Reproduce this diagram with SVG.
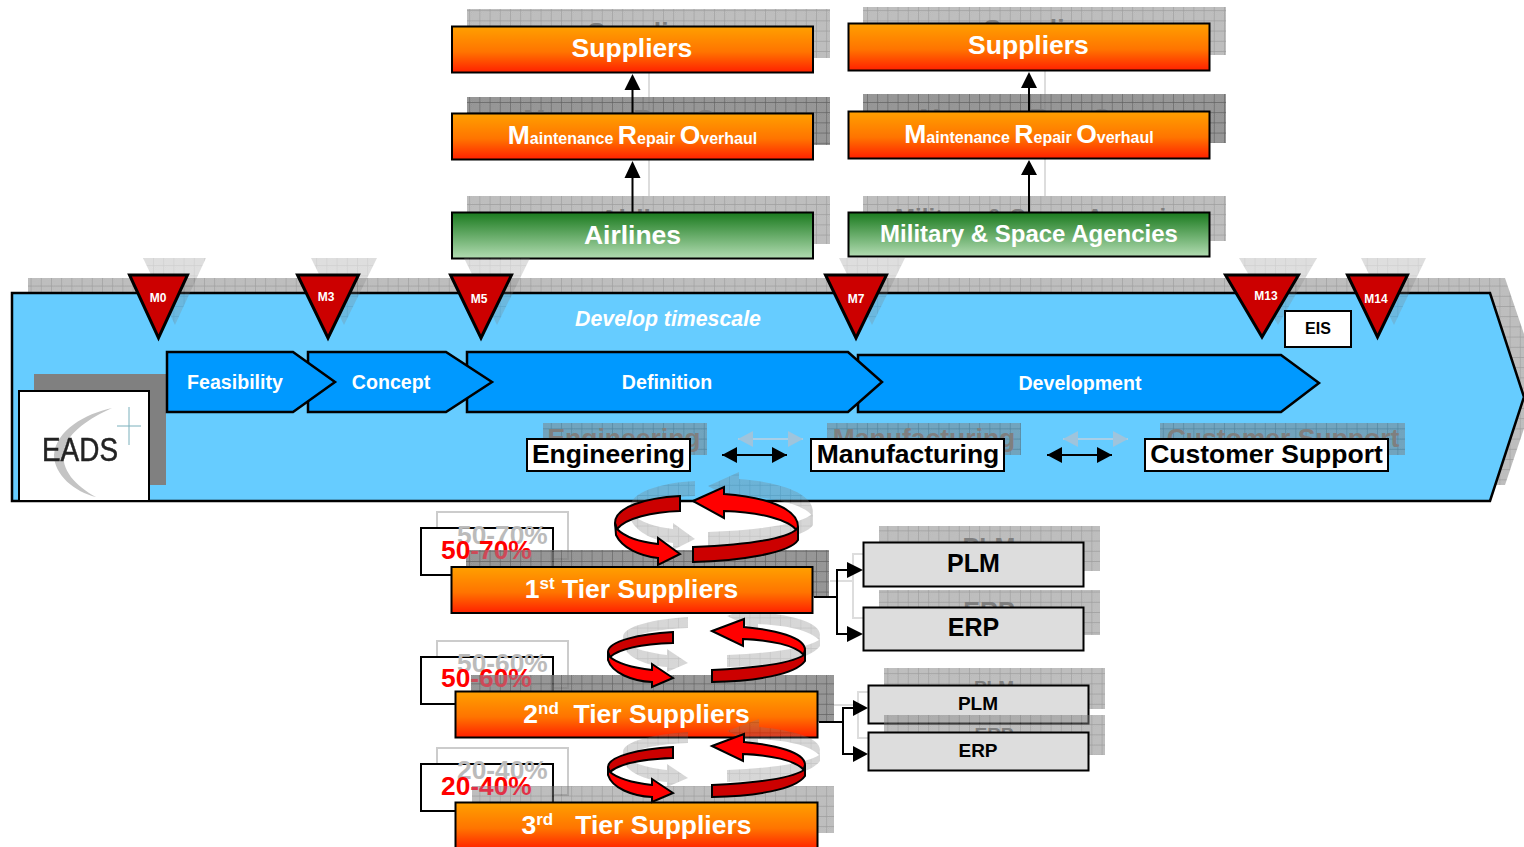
<svg xmlns="http://www.w3.org/2000/svg" width="1524" height="847" viewBox="0 0 1524 847">
<style>
text{font-family:"Liberation Sans",Arial,sans-serif;font-weight:700;white-space:pre}
.c{text-anchor:middle}
.w{fill:#fff}
.k{fill:#000}
.sh{fill:url(#grid);opacity:.5}
.shd{fill:url(#grid);opacity:.8}
.shl{fill:url(#grid);opacity:.25}
.gt{fill:#7f7f7f}
.or{fill:url(#orange);stroke:#000;stroke-width:2}
.gr{fill:url(#green);stroke:#000;stroke-width:2}
.gy{fill:#ddd;stroke:#000;stroke-width:2}
.wb{fill:#fff;stroke:#000;stroke-width:2}
.tri{fill:#c00;stroke:#000;stroke-width:3;stroke-linejoin:miter}
.chev{fill:#09f;stroke:#000;stroke-width:2.5}
.dk{fill:#c00;stroke:#000;stroke-width:2}
.rd{fill:#f00;stroke:#000;stroke-width:2}
.gro{fill:url(#grid);opacity:.3}
.ln{fill:none;stroke:#000;stroke-width:2}
.gl{fill:none;stroke:#ddd;stroke-width:2}
.hd{fill:#000}
.ghd{fill:#9fc4dc}
.tb{font-size:26.5px}
.pct{font-size:26.3px}
.mro{font-size:16px}
.big{font-size:26.5px}
.ch{font-size:19.6px}
.lb{font-size:26.5px}
</style>
<defs>
<linearGradient id="orange" x1="0" y1="0" x2="0" y2="1"><stop offset="0" stop-color="#ffa000"/><stop offset=".55" stop-color="#ff7400"/><stop offset="1" stop-color="#ff2000"/></linearGradient>
<linearGradient id="green" x1="0" y1="0" x2="0" y2="1"><stop offset="0" stop-color="#1a7a1e"/><stop offset="1" stop-color="#b2dcb2"/></linearGradient>
<linearGradient id="pk1" gradientUnits="userSpaceOnUse" x1="0" y1="541" x2="0" y2="559"><stop offset=".5" stop-color="#f00"/><stop offset=".5" stop-color="#cc4a58"/></linearGradient>
<linearGradient id="pk2" gradientUnits="userSpaceOnUse" x1="0" y1="669" x2="0" y2="687"><stop offset=".33" stop-color="#f00"/><stop offset=".33" stop-color="#cc4a58"/></linearGradient>
<linearGradient id="pk3" gradientUnits="userSpaceOnUse" x1="0" y1="777" x2="0" y2="795"><stop offset=".5" stop-color="#f00"/><stop offset=".5" stop-color="#e03048"/></linearGradient>
<pattern id="dith" width="2" height="2" patternUnits="userSpaceOnUse"><rect width="2" height="2" fill="#8a8a8a"/><rect width="1" height="1" fill="#6e6e6e"/><rect x="1" y="1" width="1" height="1" fill="#6e6e6e"/></pattern>
<pattern id="grid" width="10.2" height="10.2" patternUnits="userSpaceOnUse"><rect width="10.2" height="10.2" fill="url(#dith)"/><path d="M0,0H10.2M0,0V10.2" stroke="#3a3a3a" stroke-width="1.2" fill="none"/></pattern>
<filter id="soft" x="-10%" y="-10%" width="120%" height="120%"><feGaussianBlur stdDeviation=".6"/></filter>
<path id="r1a" d="M680,496C645,498 615,507 615,523C615,525 616,527 617,529C626,518 652,512 680,511Z"/>
<path id="r1b" d="M615,523L616,535C622,548 640,556 658,558L658,565L680,554L658,538L658,544C640,542 625,537 617,529Z"/>
<path id="r1c" d="M693,501L724,487L724,494C765,497 798,508 798,527L797,531C790,520 760,512 724,511L724,518Z"/>
<path id="r1d" d="M693,547C740,545 785,540 797,529L798,527L798,540C790,553 740,561 693,562Z"/>
<path id="r2a" d="M673,632C640,634 608,641 608,652C608,654 609,656 610,657C620,648 645,644 673,643Z"/>
<path id="r2b" d="M608,652L608,660C612,673 632,681 652,682L652,687L673,678L652,664L652,670C635,668 618,664 610,657Z"/>
<path id="r2c" d="M712,631L744,619L744,627C775,630 805,637 805,650L804,655C795,645 770,640 743,639L743,646Z"/>
<path id="r2d" d="M712,670C755,668 790,664 804,655L805,650L805,661C795,675 755,681 712,682Z"/>
<g id="r1all"><use href="#r1a"/><use href="#r1b"/><use href="#r1c"/><use href="#r1d"/></g>
<g id="r2all"><use href="#r2a"/><use href="#r2b"/><use href="#r2c"/><use href="#r2d"/></g>
<g id="r2full"><use href="#r2a" class="dk"/><use href="#r2b" class="rd"/><use href="#r2c" class="rd"/><use href="#r2d" class="dk"/></g>
</defs>

<g id="connector-shadows">
<path class="gl" d="M649,73V196M1045,71V196M830,581H853M879,554H853V618H879M834,705H858M884,692H858V738H884"/>
</g>

<g id="node-suppliers-a">
<rect class="sh" x="467" y="9" width="363" height="49"/>
<text class="gt c tb" x="648" y="41">Suppliers</text>
<rect class="or" x="452" y="26.500" width="361" height="46"/>
<text class="w c tb" x="632" y="57">Suppliers</text>
</g>
<g id="node-mro-a">
<rect class="shd" x="467" y="97" width="363" height="48"/>
<text class="gt c mro" x="648" y="128"><tspan class="big">M</tspan>aintenance <tspan class="big">R</tspan>epair <tspan class="big">O</tspan>verhaul</text>
<rect class="or" x="452" y="113.500" width="361" height="46"/>
<text class="w c mro" x="632.500" y="144"><tspan class="big">M</tspan>aintenance <tspan class="big">R</tspan>epair <tspan class="big">O</tspan>verhaul</text>
</g>
<g id="node-airlines">
<rect class="sh" x="467" y="196" width="363" height="48"/>
<text class="gt c tb" x="648" y="228">Airlines</text>
<rect class="gr" x="452" y="212.500" width="361" height="46"/>
<text class="w c tb" x="632.500" y="244">Airlines</text>
</g>
<g id="node-suppliers-b">
<rect class="sh" x="863" y="7" width="363" height="48"/>
<text class="gt c tb" x="1044" y="38">Suppliers</text>
<rect class="or" x="848.500" y="23.500" width="361" height="47"/>
<text class="w c tb" x="1028.500" y="54">Suppliers</text>
</g>
<g id="node-mro-b">
<rect class="shd" x="863" y="94" width="363" height="49"/>
<text class="gt c mro" x="1044" y="127"><tspan class="big">M</tspan>aintenance <tspan class="big">R</tspan>epair <tspan class="big">O</tspan>verhaul</text>
<rect class="or" x="848.500" y="111.500" width="361" height="47"/>
<text class="w c mro" x="1029" y="143"><tspan class="big">M</tspan>aintenance <tspan class="big">R</tspan>epair <tspan class="big">O</tspan>verhaul</text>
</g>
<g id="node-agencies">
<rect class="sh" x="863" y="196" width="363" height="45"/>
<text class="gt c" x="1044" y="226" font-size="24">Military &amp; Space Agencies</text>
<rect class="gr" x="848.500" y="212.500" width="361" height="44"/>
<text class="w c" x="1029" y="242" font-size="24">Military &amp; Space Agencies</text>
</g>

<g id="node-timeline">
<path class="sh" d="M28,278H1505L1540,381L1505,485H28Z"/>
<path d="M12,293H1490L1524,397L1490,501H12Z" fill="#6cf" stroke="#000" stroke-width="2.500"/>
<text class="w c" x="668" y="326" font-size="21.300" font-style="italic">Develop timescale</text>
</g>

<g id="node-eads">
<rect x="34" y="374" width="132" height="111" fill="#808080"/>
<rect class="wb" x="19" y="391" width="130" height="110"/>
<path d="M112,408C85,414 56,430 54,455C54,475 75,492 96,497C76,486 60,470 64,450C68,432 90,418 112,408Z" fill="#c4c4c4" filter="url(#soft)"/>
<path d="M117,426H141M129,407V445" stroke="#7ab0bc" stroke-width="1" fill="none"/>
<text x="42" y="461" font-size="33" fill="#222" stroke="#222" stroke-width=".5" textLength="76" lengthAdjust="spacingAndGlyphs" style="font-weight:400" filter="url(#soft)">EADS</text>
</g>

<g id="node-development">
<path class="chev" d="M858,355H1281L1319,383L1281,412H858Z"/>
<text class="w c ch" x="1080" y="390">Development</text>
</g>
<g id="node-definition">
<path class="chev" d="M467,352H848L882,382L848,412H467Z"/>
<text class="w c ch" x="667" y="389">Definition</text>
</g>
<g id="node-concept">
<path class="chev" d="M308,352H446L492,382L446,412H308Z"/>
<text class="w c ch" x="391" y="389">Concept</text>
</g>
<g id="node-feasibility">
<path class="chev" d="M167,352H293L335,382L293,412H167Z"/>
<text class="w c ch" x="235" y="389">Feasibility</text>
</g>

<g id="milestone-shadows">
<path class="shl" d="M143,258H206L175,325Z"/>
<path class="shl" d="M311,258H377L344,325Z"/>
<path class="shl" d="M464,258H530L497,325Z"/>
<path class="shl" d="M839,258H905L872,325Z"/>
<path class="shl" d="M1239,258H1317L1278,325Z"/>
<path class="shl" d="M1361,258H1426L1394,325Z"/>
</g>
<g id="node-m0"><path class="tri" d="M129.500,275H187.500L158.500,338Z"/><text class="w c" x="158" y="302" font-size="12">M0</text></g>
<g id="node-m3"><path class="tri" d="M297.500,275H358.500L328,338Z"/><text class="w c" x="326" y="301" font-size="12">M3</text></g>
<g id="node-m5"><path class="tri" d="M450.500,275H511.500L481,338Z"/><text class="w c" x="479" y="303" font-size="12">M5</text></g>
<g id="node-m7"><path class="tri" d="M825.500,275H886.500L856,338Z"/><text class="w c" x="856" y="303" font-size="12">M7</text></g>
<g id="node-m13"><path class="tri" d="M1225.500,275H1298.500L1262,337Z"/><text class="w c" x="1266" y="300" font-size="12">M13</text></g>
<g id="node-m14"><path class="tri" d="M1347.500,275H1407.500L1377.500,337Z"/><text class="w c" x="1376" y="303" font-size="12">M14</text></g>
<g id="node-eis"><rect class="wb" x="1285" y="311" width="66" height="36"/><text class="k c" x="1318" y="334" font-size="16">EIS</text></g>

<g id="node-engineering">
<rect class="sh" x="543" y="423" width="164" height="32"/>
<text class="gt c lb" x="624" y="447">Engineering</text>
<rect class="wb" x="527" y="439" width="163" height="32"/>
<text class="k c lb" x="608.500" y="463">Engineering</text>
</g>
<g id="node-manufacturing">
<rect class="sh" x="827" y="423" width="194" height="32"/>
<text class="gt c lb" x="924" y="447">Manufacturing</text>
<rect class="wb" x="811" y="439" width="193" height="32"/>
<text class="k c lb" x="908" y="463">Manufacturing</text>
</g>
<g id="node-support">
<rect class="sh" x="1160" y="423" width="245" height="32"/>
<text class="gt c lb" x="1283" y="447">Customer Support</text>
<rect class="wb" x="1145" y="439" width="243" height="32"/>
<text class="k c lb" x="1266.500" y="463">Customer Support</text>
</g>

<g id="node-share-1">
<rect x="437" y="512" width="131" height="47" fill="#fff" stroke="#ccc" stroke-width="2"/>
<rect class="wb" x="421" y="528" width="132" height="47"/>
<text class="pct" x="457" y="544" fill="#bbb">50-70%</text>
</g>
<g id="node-share-2">
<rect x="437" y="641" width="131" height="47" fill="#fff" stroke="#ccc" stroke-width="2"/>
<rect class="wb" x="421" y="657" width="132" height="47"/>
<text class="pct" x="457" y="672" fill="#bbb">50-60%</text>
</g>
<g id="node-share-3">
<rect x="437" y="748" width="131" height="47" fill="#fff" stroke="#ccc" stroke-width="2"/>
<rect class="wb" x="421" y="764" width="132" height="47"/>
<text class="pct" x="457" y="779" fill="#bbb">20-40%</text>
</g>

<use id="cycle-2-shadow" href="#r2all" class="gro" transform="translate(15,-15)"/>
<use id="cycle-1-shadow" href="#r1all" class="gro" transform="translate(15,-15)"/>

<g id="node-tier-1">
<rect class="shd" x="466" y="550" width="363" height="47"/>
<rect class="or" x="451.500" y="567" width="361" height="46"/>
<text class="w c tb" x="631.500" y="598">1<tspan font-size="17" dy="-9">st</tspan><tspan dy="9"> Tier Suppliers</tspan></text>
</g>
<g id="node-tier-2">
<rect class="shd" x="471" y="675" width="363" height="47"/>
<rect class="or" x="455.500" y="691.500" width="362" height="46"/>
<text class="w c tb" x="636.500" y="723">2<tspan font-size="17" dy="-9">nd</tspan><tspan dy="9">  Tier Suppliers</tspan></text>
</g>
<g id="node-tier-3">
<rect class="sh" x="472" y="786" width="362" height="47"/>
<rect class="or" x="455.500" y="802.500" width="362" height="47"/>
<text class="w c tb" x="636.500" y="834">3<tspan font-size="17" dy="-9">rd</tspan><tspan dy="9">   Tier Suppliers</tspan></text>
</g>

<g id="share-labels">
<text class="pct" x="441" y="559" fill="#f00">50<tspan fill="url(#pk1)">-70%</tspan></text>
<text class="pct" x="441" y="687" fill="#f00">50<tspan fill="url(#pk2)">-60%</tspan></text>
<text class="pct" x="441" y="795" fill="#f00">20<tspan fill="url(#pk3)">-40%</tspan></text>
</g>

<use id="cycle-3-shadow" href="#r2all" class="gro" transform="translate(15,100)"/>
<g id="cycle-1"><use href="#r1a" class="dk"/><use href="#r1b" class="rd"/><use href="#r1c" class="rd"/><use href="#r1d" class="dk"/></g>
<use id="cycle-2" href="#r2full"/>
<use id="cycle-3" href="#r2full" transform="translate(0,115)"/>

<g id="node-plm-1">
<rect class="sh" x="879" y="526" width="221" height="45"/>
<text class="gt c" x="989" y="556" font-size="25">PLM</text>
<rect class="gy" x="863.500" y="542.500" width="220" height="44"/>
<text class="k c" x="973.500" y="572" font-size="25">PLM</text>
</g>
<g id="node-erp-1">
<rect class="sh" x="879" y="590" width="221" height="45"/>
<text class="gt c" x="989" y="620" font-size="25">ERP</text>
<rect class="gy" x="863.500" y="607.500" width="220" height="43"/>
<text class="k c" x="973.500" y="636" font-size="25">ERP</text>
</g>
<g id="node-plm-2">
<rect class="sh" x="884" y="668" width="221" height="41"/>
<text class="gt c" x="994" y="694" font-size="19">PLM</text>
<rect class="gy" x="868.500" y="685.500" width="220" height="38"/>
<text class="k c" x="978" y="710" font-size="19">PLM</text>
</g>
<g id="node-erp-2">
<rect class="sh" x="884" y="715" width="221" height="40"/>
<text class="gt c" x="994" y="741" font-size="19">ERP</text>
<rect class="gy" x="868.500" y="732.500" width="220" height="38"/>
<text class="k c" x="978" y="757" font-size="19">ERP</text>
</g>

<g id="connectors">
<path class="gl" d="M738,439H803M1063,439H1128" style="stroke:#a8cfe8"/>
<path class="ghd" d="M738,439L753,431V447ZM803,439L788,431V447ZM1063,439L1078,431V447ZM1128,439L1113,431V447Z"/>
<path class="ln" d="M632.500,212V178M632.500,113V89M1029,212V175M1029,111V88"/>
<path class="hd" d="M632.500,161L640.500,178H624.500ZM632.500,74L640.500,90H624.500ZM1029,160L1037,175H1021ZM1029,72L1037,88H1021Z"/>
<path class="ln" d="M814,597H837V570H850M837,597V634H850M819,722H843V708H855M843,722V754H855M722,455H787M1047,455H1112"/>
<path class="hd" d="M722,455L737,447V463ZM787,455L772,447V463ZM1047,455L1062,447V463ZM1112,455L1097,447V463ZM863,570L847,562V578ZM863,634L847,626V642ZM868,708L853,700V716ZM868,754L853,746V762Z"/>
</g>
</svg>
